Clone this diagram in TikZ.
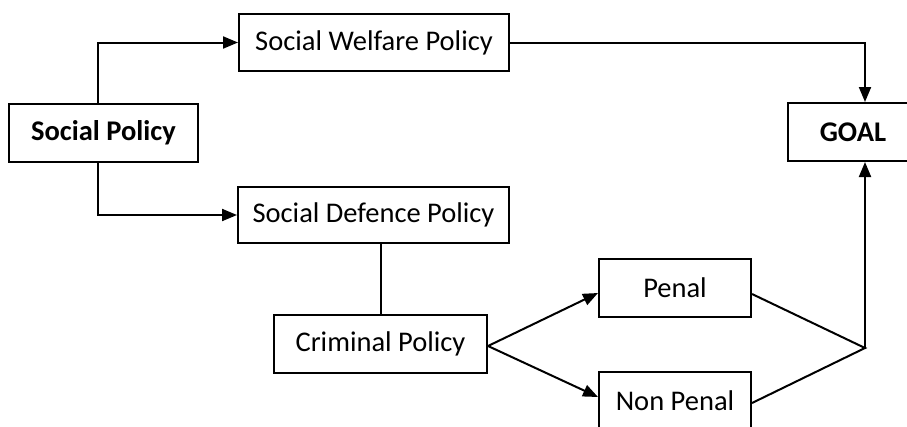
\documentclass[tikz,border=0pt]{standalone}
\usepackage{fontspec}
\setmainfont{Carlito}
\usetikzlibrary{arrows.meta}
\begin{document}
\begin{tikzpicture}[x=1pt,y=-1pt,
  box/.style={draw=black,line width=2pt,inner sep=0pt,align=center,
    font=\fontsize{28.5}{34}\selectfont},
  conn/.style={line width=2pt,draw=black},
  arr/.style={conn,-{Triangle[length=15pt,width=12pt]}}]
\useasboundingbox (0,0) rectangle (907,426);
\clip (0,0) rectangle (907,426);
\node[box,minimum width=189pt,minimum height=58pt,font=\fontsize{28.5}{34}\selectfont\bfseries] (sp) at (103.5,133) {Social Policy};
\node[box,minimum width=270pt,minimum height=57pt] (swp) at (374,42.5) {Social Welfare Policy};
\node[box,minimum width=271pt,minimum height=56pt] (sdp) at (373.5,215) {Social Defence Policy};
\node[box,minimum width=213pt,minimum height=58pt] (cp) at (380.5,344) {Criminal Policy};
\node[box,minimum width=152pt,minimum height=58pt] (penal) at (675,288) {Penal};
\node[box,minimum width=152pt,minimum height=58pt] (nonpenal) at (675,401) {Non Penal};
\node[box,minimum width=130pt,minimum height=58pt,font=\fontsize{28.5}{34}\selectfont\bfseries] (goal) at (853,132) {GOAL};
\coordinate (join) at (865,348);
\draw[arr] ([xshift=-5.5pt]sp.north) |- (swp.west);
\draw[arr] ([xshift=-5.5pt]sp.south) |- (sdp.west);
\draw[conn] (cp.north |- sdp.south) -- (cp.north);
\draw[arr] ([yshift=-2pt]cp.east) -- ([yshift=-5pt]penal.west);
\draw[arr] ([yshift=-2pt]cp.east) -- ([yshift=4pt]nonpenal.west);
\draw[conn] ([yshift=-6pt]penal.east) -- (join) -- ([yshift=-2pt]nonpenal.east);
\draw[arr] (join) -- (goal.south -| join);
\draw[arr] (swp.east) -| (goal.north -| join);
\end{tikzpicture}
\end{document}
